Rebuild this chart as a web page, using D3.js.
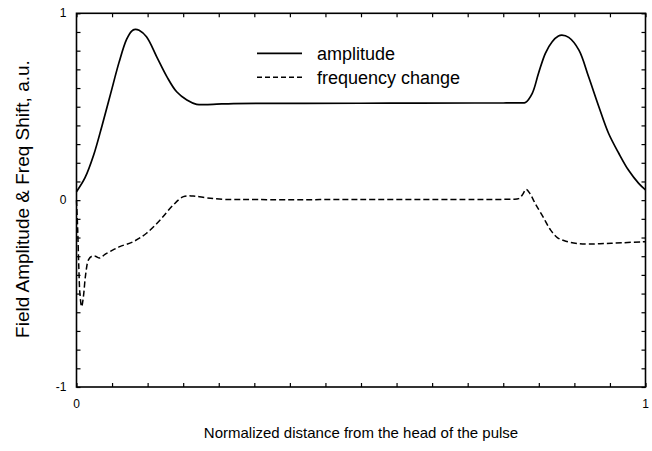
<!DOCTYPE html>
<html>
  <head>
    <meta charset="utf-8">
    <script src="https://d3js.org/d3.v7.min.js"></script>
    <style>
      body { margin: 0; background: #fff; }
      text { font-family: "Liberation Sans", Arial, sans-serif; fill: #000; }
    </style>
  </head>
  <body>
    <div id="vis"></div>
    <script>

      // amplitude curve
      var ampX = [0, 0.015, 0.030, 0.045, 0.060, 0.075, 0.088, 0.097, 0.103, 0.110, 0.123, 0.141, 0.159, 0.176, 0.194, 0.211, 0.240, 0.276, 0.40, 0.55, 0.70, 0.75, 0.778, 0.789,
                  0.801, 0.812, 0.824, 0.836, 0.847, 0.853, 0.865, 0.883, 0.900, 0.918, 0.935, 0.953, 0.970, 0.988, 1.0];
      var ampY = [0.045, 0.12, 0.24, 0.40, 0.57, 0.74, 0.86, 0.905, 0.914, 0.909, 0.874, 0.767, 0.660, 0.580, 0.536, 0.513, 0.513, 0.517, 0.518, 0.519, 0.520, 0.520, 0.521, 0.523,
                  0.572, 0.679, 0.786, 0.848, 0.878, 0.883, 0.871, 0.803, 0.660, 0.500, 0.358, 0.251, 0.161, 0.090, 0.055];

      // frequency change curve
      var freqX = [0, 0.002, 0.004, 0.006, 0.009, 0.012, 0.016, 0.021, 0.027, 0.033, 0.041, 0.050, 0.059, 0.076, 0.100, 0.123, 0.147, 0.170, 0.188, 0.205, 0.230, 0.260, 0.300,
                   0.50, 0.70, 0.74, 0.765, 0.777, 0.784, 0.790, 0.797, 0.806, 0.820, 0.833, 0.845, 0.860, 0.880, 0.900, 0.930, 0.960, 1.0];
      var freqY = [0, -0.15, -0.35, -0.50, -0.57, -0.52, -0.40, -0.32, -0.30, -0.30, -0.31, -0.29, -0.275, -0.249, -0.222, -0.177, -0.106, -0.026, 0.019, 0.022, 0.012, 0.004, 0.003,
                   0.003, 0.004, 0.004, 0.005, 0.008, 0.030, 0.058, 0.035, -0.017, -0.09, -0.159, -0.20, -0.22, -0.232, -0.235, -0.232, -0.228, -0.222];

      var yLabels = [1, 0, -1];
      var xLabels = [0, 1];
      var seriesNames = ["amplitude", "frequency change"];

      var width = 652, height = 451;
      var plotLeft = 76.5, plotRight = 645.5, plotTop = 13.3, plotBottom = 387;

      var svg = d3.select("#vis").append("svg")
                  .attr("width", width)
                  .attr("height", height);

      var x = d3.scaleLinear().domain([0, 1]).range([plotLeft, plotRight]);
      var y = d3.scaleLinear().domain([-1, 1]).range([plotBottom, plotTop]);

      // small inward ticks on all four sides
      var xTicks = d3.range(0, 1.0001, 1 / 16);
      var yTicks = d3.range(-1, 1.0001, 0.1);

      var tickAxis = function(axis, tx, ty){
        var g = svg.append("g")
          .attr("transform", "translate(" + tx + "," + ty + ")")
          .call(axis.tickFormat("").tickSizeInner(-4).tickSizeOuter(0));
        g.select(".domain").remove();
        g.selectAll("line").attr("stroke", "#000").attr("stroke-width", 1.2);
      }
      tickAxis(d3.axisBottom(x).tickValues(xTicks), 0, plotBottom);
      tickAxis(d3.axisTop(x).tickValues(xTicks), 0, plotTop);
      tickAxis(d3.axisLeft(y).tickValues(yTicks), plotLeft, 0);
      tickAxis(d3.axisRight(y).tickValues(yTicks), plotRight, 0);

      // frame
      svg.append("rect")
        .attr("x", plotLeft).attr("y", plotTop)
        .attr("width", plotRight - plotLeft).attr("height", plotBottom - plotTop)
        .attr("fill", "none").attr("stroke", "#000").attr("stroke-width", 1.6);

      // tick labels
      svg.selectAll(".ylab").data(yLabels).enter().append("text")
        .attr("x", plotLeft - 10)
        .attr("y", function(d){ return y(d) + 4; })
        .attr("text-anchor", "end")
        .style("font-size", "12px")
        .text(function(d){ return d; });

      svg.selectAll(".xlab").data(xLabels).enter().append("text")
        .attr("x", function(d){ return x(d); })
        .attr("y", plotBottom + 21)
        .attr("text-anchor", "middle")
        .style("font-size", "12px")
        .text(function(d){ return d; });

      // axis titles
      svg.append("text")
        .attr("x", (plotLeft + plotRight) / 2)
        .attr("y", 438)
        .attr("text-anchor", "middle")
        .style("font-size", "15px")
        .text("Normalized distance from the head of the pulse");

      svg.append("text")
        .attr("transform", "translate(29," + 199 + ") rotate(-90)")
        .attr("text-anchor", "middle")
        .style("font-size", "19px")
        .text("Field Amplitude & Freq Shift, a.u.");

      // curves
      var line = d3.line()
        .x(function(d){ return x(d[0]); })
        .y(function(d){ return y(d[1]); })
        .curve(d3.curveCatmullRom.alpha(0.5));

      svg.append("path")
        .datum(ampX.map(function(v, i){ return [v, ampY[i]]; }))
        .attr("d", line)
        .attr("fill", "none").attr("stroke", "#000").attr("stroke-width", 1.7);

      svg.append("path")
        .datum(freqX.map(function(v, i){ return [v, freqY[i]]; }))
        .attr("d", line)
        .attr("fill", "none").attr("stroke", "#000").attr("stroke-width", 1.5)
        .attr("stroke-dasharray", "6,3");

      // legend
      var legend = svg.append("g");
      seriesNames.forEach(function(name, i){
        legend.append("line")
          .attr("x1", 257).attr("x2", 302)
          .attr("y1", 53.3 + i * 24).attr("y2", 53.3 + i * 24)
          .attr("stroke", "#000").attr("stroke-width", i == 0 ? 1.7 : 1.5)
          .attr("stroke-dasharray", i == 0 ? null : "5,3");
        legend.append("text")
          .attr("x", 317).attr("y", 60 + i * 23.5)
          .style("font-size", "18px")
          .text(name);
      });

    </script>
  </body>
</html>
